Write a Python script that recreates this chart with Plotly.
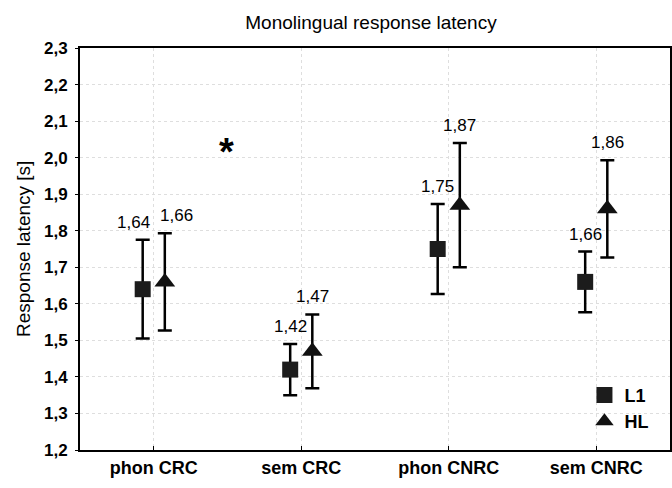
import plotly.graph_objects as go

categories = ["phon CRC", "sem CRC", "phon CNRC", "sem CNRC"]
means_L1 = [1.64, 1.42, 1.75, 1.66]
err_L1 = [0.135, 0.070, 0.123, 0.083]
means_HL = [1.66, 1.47, 1.87, 1.86]
err_HL = [0.133, 0.101, 0.170, 0.133]
yticks = [1.2, 1.3, 1.4, 1.5, 1.6, 1.7, 1.8, 1.9, 2.0, 2.1, 2.2, 2.3]
star_pos = (0.49, 2.016)


def fmt(v, d):
    return f"{v:.{d}f}".replace(".", ",")


FONT = "Liberation Sans, Arial, sans-serif"
off = 0.075
xs = list(range(len(categories)))
x_L1 = [x - off for x in xs]
x_HL = [x + off for x in xs]

fig = go.Figure()
fig.add_trace(go.Scatter(
    x=x_L1, y=means_L1, mode="markers", name="<b>L1</b>",
    marker=dict(symbol="square", size=16, color="#1c1c1c", line=dict(width=0)),
    error_y=dict(type="data", array=err_L1, color="black", thickness=2.5, width=7),
))
fig.add_trace(go.Scatter(
    x=x_HL, y=means_HL, mode="markers", name="<b>HL</b>",
    marker=dict(symbol="triangle-up", size=18, color="#111111", line=dict(width=0)),
    error_y=dict(type="data", array=err_HL, color="black", thickness=2.5, width=7),
))

ann = []
for i in xs:
    xsh_L1 = -9 if i == 0 else 0
    xsh_HL = 12 if i == 0 else 0
    ann.append(dict(x=x_L1[i], y=means_L1[i] + err_L1[i], text=fmt(means_L1[i], 2),
                    showarrow=False, yanchor="bottom", xshift=xsh_L1, yshift=6,
                    font=dict(family=FONT, size=17, color="black")))
    ann.append(dict(x=x_HL[i], y=means_HL[i] + err_HL[i], text=fmt(means_HL[i], 2),
                    showarrow=False, yanchor="bottom", xshift=xsh_HL, yshift=6,
                    font=dict(family=FONT, size=17, color="black")))
ann.append(dict(x=star_pos[0], y=star_pos[1], text="<b>*</b>", showarrow=False,
                yanchor="middle", font=dict(family=FONT, size=38, color="black")))
ann.append(dict(x=-57 / 590, y=0.5, xref="paper", yref="paper", text="Response latency [s]",
                textangle=-90, showarrow=False, xanchor="center", yanchor="middle",
                font=dict(family=FONT, size=19, color="black")))

fig.update_layout(
    template="none",
    width=672, height=488,
    margin=dict(l=80, r=2, t=48, b=38, pad=0),
    paper_bgcolor="white", plot_bgcolor="white",
    separators=",.",
    title=dict(text="Monolingual response latency", x=371 / 672, xanchor="center",
               y=1 - 22 / 488, yanchor="middle", xref="container", yref="container",
               font=dict(family=FONT, size=19, color="black")),
    showlegend=True,
    legend=dict(x=0.855, y=0.104, xanchor="left", yanchor="middle",
                bgcolor="rgba(0,0,0,0)", borderwidth=0,
                font=dict(family=FONT, size=18, color="black"),
                itemwidth=30, tracegroupgap=0),
    annotations=ann,
)
fig.update_xaxes(
    range=[-0.5, 3.5], tickvals=xs, ticktext=["<b>" + c + "</b>" for c in categories],
    tickfont=dict(family=FONT, size=18, color="black"), automargin=False,
    showline=True, linecolor="black", linewidth=2, mirror=True,
    ticks="inside", ticklen=4, tickcolor="black",
    showgrid=True, gridcolor="#dedede", griddash="dot", gridwidth=1, zeroline=False,
)
fig.update_yaxes(
    range=[1.2, 2.3], tickvals=yticks, automargin=False,
    ticktext=["<b>" + fmt(v, 1) + "</b>" for v in yticks],
    tickfont=dict(family=FONT, size=17, color="black"), ticklabelstandoff=4,
    showline=True, linecolor="black", linewidth=2, mirror="ticks",
    ticks="outside", ticklen=3, tickcolor="black",
    showgrid=True, gridcolor="#dedede", griddash="dot", gridwidth=1, zeroline=False,
)
fig.write_html("out.html", config={"displayModeBar": False},
               post_script="document.body.style.margin='0';")
